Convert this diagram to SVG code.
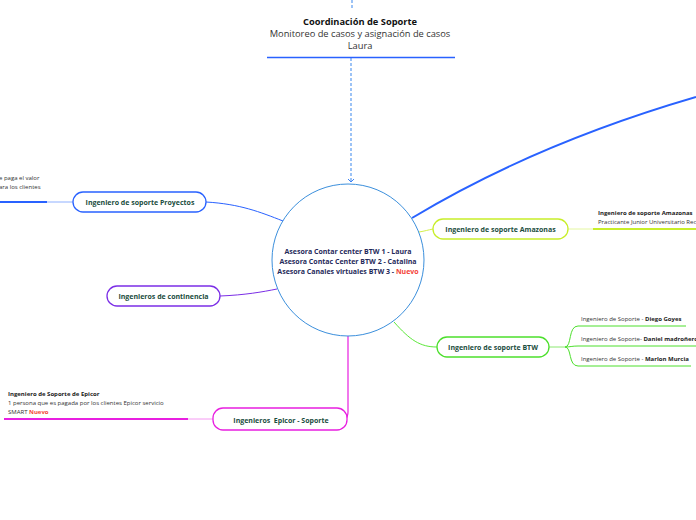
<svg xmlns="http://www.w3.org/2000/svg" width="696" height="520" viewBox="0 0 696 520">
<style>
text{font-family:"Open Sans","Noto Sans","DejaVu Sans",sans-serif}
.nt{font-size:7px;font-weight:bold;fill:#1b4d3e;text-anchor:middle}
.ct{font-size:7px;font-weight:bold;fill:#1f2a5a;text-anchor:middle}
.sm{font-size:6px;fill:#333}
.smb{font-size:6px;fill:#222;font-weight:bold}
.red{fill:#f44336}
.node{fill:#fff;stroke-width:1.3}
</style>
<defs>
<marker id="ah" markerWidth="6" markerHeight="6" refX="3" refY="3" orient="auto" markerUnits="userSpaceOnUse">
<path d="M0,0 L3,3 L0,6" fill="none" stroke="#3b82f6" stroke-width="1"/>
</marker>
</defs>
<g id="connectors" fill="none">
<path d="M352,0 V10" stroke="#5b9cf0" stroke-width="1.2" stroke-dasharray="3,2"/>
<path d="M351,58 V182" stroke="#5b9cf0" stroke-width="1.2" stroke-dasharray="3,2" marker-end="url(#ah)"/>
<path d="M412,218 C500,165 600,125 696,97" stroke="#2962ff" stroke-width="2"/>
<path d="M206,202 C240,204 260,212 283,221" stroke="#2962ff" stroke-width="1"/>
<path d="M73,202 H47" stroke="#8fb0ff" stroke-width="1"/>
<path d="M0,202 H47" stroke="#2962ff" stroke-width="2"/>
<path d="M220,296 C245,295 262,292 277,289" stroke="#7b2ee6" stroke-width="1"/>
<path d="M419,232 C425,231 428,230 433,229" stroke="#d4f04a" stroke-width="1"/>
<path d="M568,229 H593" stroke="#e4f7a0" stroke-width="1"/>
<path d="M593,229 H696" stroke="#c8ee2a" stroke-width="2"/>
<path d="M394,322 C410,340 420,347 437,347" stroke="#5ce83a" stroke-width="1"/>
<path d="M549,347 H565" stroke="#8be870" stroke-width="1"/>
<path d="M565,347 C572,347 568,326 578,326 H686" stroke="#4cdf2c" stroke-width="1"/>
<path d="M565,347 C570,347 572,346 578,346 H696" stroke="#4cdf2c" stroke-width="1"/>
<path d="M565,347 C572,347 568,366 578,366 H691" stroke="#4cdf2c" stroke-width="1"/>
<path d="M348,336 V412 C348,416 347,418 345,420" stroke="#e81fe0" stroke-width="1.2"/>
<path d="M213,419 H188" stroke="#f59af2" stroke-width="1"/>
<path d="M4,419 H188" stroke="#e81fe0" stroke-width="2"/>
</g>
<g id="coordinacion">
<text x="360" y="25" text-anchor="middle" font-size="9.3" font-weight="bold" fill="#111">Coordinación de Soporte</text>
<text x="360" y="37" text-anchor="middle" font-size="9.3" fill="#333">Monitoreo de casos y asignación de casos</text>
<text x="360" y="49" text-anchor="middle" font-size="9.3" fill="#333">Laura</text>
<path d="M267,57.5 H455" stroke="#2962ff" stroke-width="1.5"/>
</g>
<g id="centro">
<circle cx="348" cy="260" r="76" fill="#fff" stroke="#3b8fdc" stroke-width="1"/>
<text class="ct" x="348" y="254">Asesora Contar center BTW 1 - Laura</text>
<text class="ct" x="348" y="264">Asesora Contac Center BTW 2 - Catalina</text>
<text class="ct" x="348" y="274">Asesora Canales virtuales BTW 3 - <tspan class="red">Nuevo</tspan></text>
</g>
<g id="proyectos">
<rect class="node" x="73" y="192" width="133" height="20" rx="10" stroke="#2962ff"/>
<text class="nt" x="140" y="204.5">Ingeniero de soporte Proyectos</text>
<text class="sm" x="-1" y="180">e paga el valor</text>
<text class="sm" x="-1" y="189">ara los clientes</text>
</g>
<g id="continencia">
<rect class="node" x="107" y="286" width="113" height="20" rx="10" stroke="#7b2ee6"/>
<text class="nt" x="163.5" y="298.5">Ingenieros de continencia</text>
</g>
<g id="amazonas">
<rect class="node" x="433" y="219" width="135" height="20" rx="10" stroke="#c8ee2a"/>
<text class="nt" x="500.5" y="231.5">Ingeniero de soporte Amazonas</text>
<text class="smb" x="598" y="215">Ingeniero de soporte Amazonas</text>
<text class="sm" x="598" y="224">Practicante Junior Universitario Rec</text>
</g>
<g id="btw">
<rect class="node" x="437" y="337" width="112" height="20" rx="10" stroke="#4cdf2c"/>
<text class="nt" x="493" y="349.5">Ingeniero de soporte BTW</text>
<text class="sm" x="581" y="321">Ingeniero de Soporte - <tspan font-weight="bold" fill="#222">Diego Goyes</tspan></text>
<text class="sm" x="581" y="341">Ingeniero de Soporte- <tspan font-weight="bold" fill="#222">Daniel madroñero</tspan></text>
<text class="sm" x="581" y="361">Ingeniero de Soporte - <tspan font-weight="bold" fill="#222">Marlon Murcia</tspan></text>
</g>
<g id="epicor">
<rect class="node" x="213" y="408" width="134" height="22" rx="10" stroke="#e81fe0"/>
<text class="nt" x="281" y="422.5" font-size="8.3" xml:space="preserve">Ingenieros  Epicor - Soporte</text>
<text class="smb" x="8" y="396">Ingeniero de Soporte de Epicor</text>
<text class="sm" x="8" y="405">1 persona que es pagada por los clientes Epicor servicio</text>
<text class="sm" x="8" y="414">SMART <tspan class="red" font-weight="bold">Nuevo</tspan></text>
</g>
</svg>
